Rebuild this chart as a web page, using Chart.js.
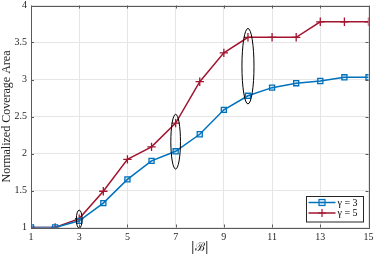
<!DOCTYPE html>
<html>
<head>
<meta charset="utf-8">
<script src="https://cdn.jsdelivr.net/npm/chart.js@4/dist/chart.umd.min.js"></script>
<style>
html,body{margin:0;padding:0;background:#fff;}
#wrap{width:374px;height:257px;}
</style>
</head>
<body>
<div id="wrap"><canvas id="c" width="374" height="257"></canvas></div>
<script>
const categories = [1,2,3,4,5,6,7,8,9,10,11,12,13,14,15];
const gamma3 = [1,1,1.09,1.33,1.65,1.90,2.03,2.26,2.59,2.78,2.89,2.95,2.98,3.03,3.03];
const gamma5 = [1,1,1.12,1.49,1.92,2.09,2.41,2.97,3.36,3.57,3.57,3.57,3.78,3.78,3.78];
const seriesLabels = ['\u03b3 = 3','\u03b3 = 5'];
const xTicks = [1,3,5,7,9,11,13,15];
const yTicks = [1,1.5,2,2.5,3,3.5,4];
const yTickLabels = ['1','1.5','2','2.5','3','3.5','4'];
// highlighted ellipses: category, lower value, upper value
const ellipseX = [3,7,10];
const ellipseLow = [0.99,1.79,2.67];
const ellipseHigh = [1.235,2.53,3.69];
const ellipseHalfW = [0.12,0.2,0.25];

const FONT = '"Liberation Serif", "DejaVu Serif", serif';
const BLUE = '#0072BD', RED = '#A2142F';

const ellipsePlugin = {
  id:'ellipses',
  afterDatasetsDraw(chart){
    const {ctx, scales:{x,y}} = chart;
    ctx.save();
    ctx.strokeStyle = '#000'; ctx.lineWidth = 1;
    ellipseX.forEach((cx,i)=>{
      const px = x.getPixelForValue(cx);
      const py = (y.getPixelForValue(ellipseLow[i]) + y.getPixelForValue(ellipseHigh[i]))/2;
      const ry = Math.abs(y.getPixelForValue(ellipseLow[i]) - y.getPixelForValue(ellipseHigh[i]))/2;
      const rx = Math.abs(x.getPixelForValue(cx+ellipseHalfW[i]) - px);
      ctx.beginPath();
      ctx.ellipse(px, py, rx, ry, 0, 0, Math.PI*2);
      ctx.stroke();
    });
    ctx.restore();
  }
};

const framePlugin = {
  id:'frame',
  afterDraw(chart){
    const {ctx, chartArea:a, scales:{x,y}} = chart;
    ctx.save();
    ctx.strokeStyle = '#5a5a5a'; ctx.lineWidth = 1;
    ctx.strokeRect(Math.round(a.left)+0.5, Math.round(a.top)+0.5, Math.round(a.right-a.left), Math.round(a.bottom-a.top));
    ctx.beginPath();
    xTicks.forEach(v=>{
      const px = Math.round(x.getPixelForValue(v))+0.5;
      ctx.moveTo(px,a.bottom); ctx.lineTo(px,a.bottom-3);
      ctx.moveTo(px,a.top); ctx.lineTo(px,a.top+3);
    });
    yTicks.forEach(v=>{
      const py = Math.round(y.getPixelForValue(v))+0.5;
      ctx.moveTo(a.left,py); ctx.lineTo(a.left+3,py);
      ctx.moveTo(a.right,py); ctx.lineTo(a.right-3,py);
    });
    ctx.stroke();
    // legend box inside chart area (lower right)
    const w = 57, h = 25.5;
    const bx = a.right - 6 - w, by = a.bottom - 6.5 - h;
    ctx.fillStyle = '#fff';
    ctx.fillRect(bx,by,w,h);
    ctx.strokeStyle = '#262626';
    ctx.strokeRect(Math.round(bx)+0.5, Math.round(by)+0.5, w, h);
    chart.data.datasets.forEach((ds,i)=>{
      const ly = by + 7 + i*10.5;
      ctx.strokeStyle = ds.borderColor; ctx.lineWidth = 1.5;
      ctx.beginPath(); ctx.moveTo(bx+3,ly); ctx.lineTo(bx+30,ly); ctx.stroke();
      const mx = bx+16.5;
      ctx.lineWidth = 1.2;
      if (ds.pointStyle==='rect'){
        ctx.fillStyle = ds.pointBackgroundColor;
        ctx.fillRect(mx-3,ly-3,6,6);
        ctx.strokeRect(mx-3,ly-3,6,6);
      } else {
        ctx.beginPath(); ctx.moveTo(mx-4,ly); ctx.lineTo(mx+4,ly); ctx.moveTo(mx,ly-4); ctx.lineTo(mx,ly+4); ctx.stroke();
      }
      ctx.fillStyle = '#000';
      ctx.font = '10px ' + FONT;
      ctx.textBaseline = 'middle'; ctx.textAlign='left';
      ctx.fillText(ds.label, bx+32, ly+0.5);
    });
    ctx.restore();
  }
};

new Chart(document.getElementById('c'), {
  type:'line',
  data:{
    datasets:[
      {label:seriesLabels[0], data:categories.map((c,i)=>({x:c,y:gamma3[i]})), borderColor:BLUE, borderWidth:1.5,
       pointStyle:'rect', pointRadius:3.6, pointBorderWidth:1.3, pointBackgroundColor:'rgba(0,114,189,0.12)', pointBorderColor:BLUE, tension:0},
      {label:seriesLabels[1], data:categories.map((c,i)=>({x:c,y:gamma5[i]})), borderColor:RED, borderWidth:1.5,
       pointStyle:'cross', pointRadius:4.2, pointBorderWidth:1.3, pointBorderColor:RED, pointBackgroundColor:RED, tension:0}
    ]
  },
  options:{
    responsive:false, animation:false,
    layout:{padding:{left:0,right:5,top:4,bottom:0}},
    plugins:{legend:{display:false}, tooltip:{enabled:false}},
    scales:{
      x:{type:'linear', min:1, max:15,
        afterBuildTicks(s){ s.ticks = xTicks.map(v=>({value:v})); },
        afterFit(s){ s.height = 29.5; s.paddingRight = 0; s.paddingLeft = 0; },
        grid:{color:'#e6e6e6', drawTicks:false},
        border:{display:false},
        ticks:{padding:4, color:'#262626', font:{family:FONT,size:10}, maxRotation:0},
        title:{display:true, text:'|\u212C|', color:'#262626', font:{family:'"DejaVu Serif", serif',size:12}, padding:{top:0,bottom:2}}
      },
      y:{type:'linear', min:1, max:4,
        afterBuildTicks(s){ s.ticks = yTicks.map(v=>({value:v})); },
        afterFit(s){ s.width = 31; s.paddingTop = 0; s.paddingBottom = 0; },
        grid:{color:'#e6e6e6', drawTicks:false},
        border:{display:false},
        ticks:{padding:4, color:'#262626', font:{family:FONT,size:10},
          callback:(v)=>{ const i = yTicks.indexOf(v); return i>=0 ? yTickLabels[i] : ''; }},
        title:{display:true, text:'Normalized Coverage Area', color:'#262626', font:{family:FONT,size:12}, padding:{top:0,bottom:1}}
      }
    }
  },
  plugins:[ellipsePlugin, framePlugin]
});
</script>
</body>
</html>
